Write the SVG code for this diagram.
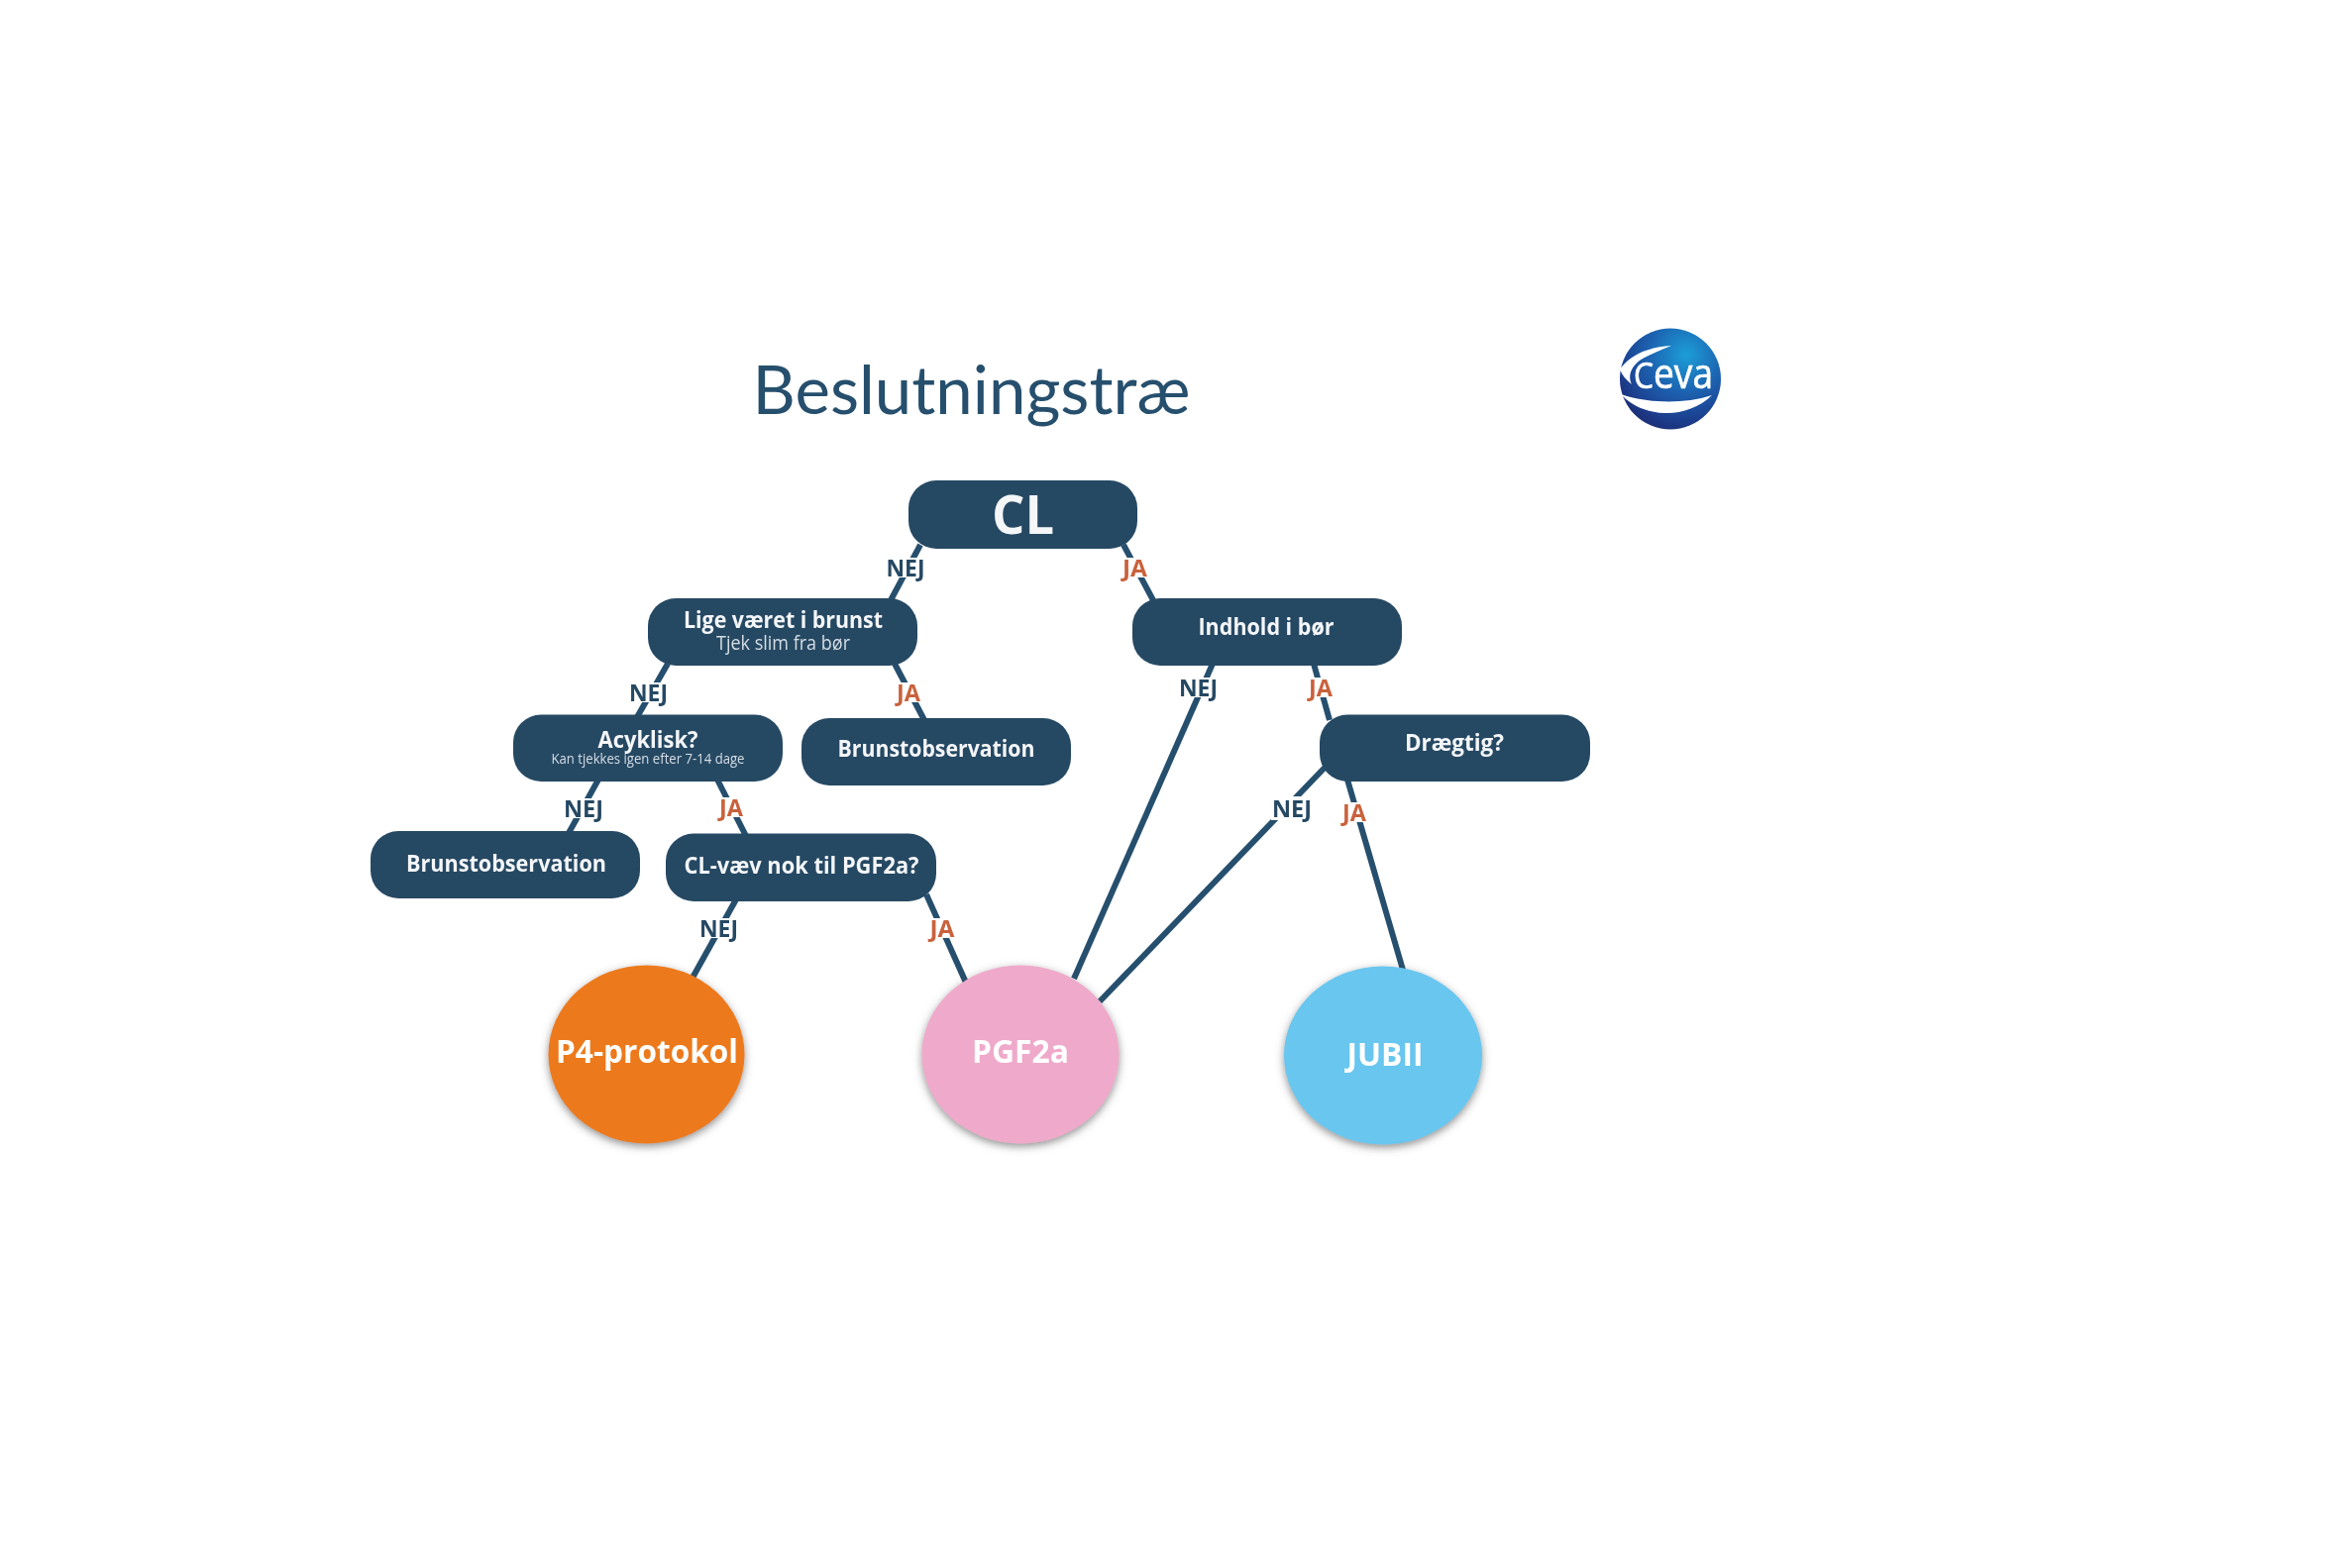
<svg xmlns="http://www.w3.org/2000/svg" width="2372" height="1583" viewBox="0 0 2372 1583">
<style>
text{font-family:"Open Sans","Noto Sans","Liberation Sans",sans-serif;text-anchor:middle}
.box{fill:#264864}
.t{fill:#f4f6f8;font-weight:700;font-size:23px}
.s{fill:#d5dde4;font-weight:400}
.big{fill:#fff;font-weight:700;font-size:33px}
.edge{stroke:#28506e;stroke-width:6;fill:none}
.lb{fill:#fff}
.nej{fill:#264864;font-weight:700;font-size:23px}
.ja{fill:#c9623c;font-weight:700;font-size:23px}
</style>
<defs>
<filter id="shadow" x="-20%" y="-20%" width="140%" height="140%"><feDropShadow dx="0" dy="3" stdDeviation="4" flood-color="#555" flood-opacity="0.65"/></filter>
<filter id="soft" x="-2%" y="-2%" width="104%" height="104%"><feGaussianBlur stdDeviation="0.7"/></filter>
<radialGradient id="ball" gradientUnits="userSpaceOnUse" cx="1702" cy="358" r="85">
<stop offset="0" stop-color="#1f9ed8"/><stop offset="0.45" stop-color="#1a62b0"/><stop offset="0.8" stop-color="#1c3c8c"/><stop offset="1" stop-color="#1d2b6e"/>
</radialGradient>
</defs>
<g filter="url(#soft)">
<g id="connectors">
<line class="edge" x1="929" y1="550" x2="899" y2="606"/>
<line class="edge" x1="1134" y1="550" x2="1164" y2="606"/>
<line class="edge" x1="674" y1="670" x2="643" y2="724"/>
<line class="edge" x1="903" y1="670" x2="933" y2="727"/>
<line class="edge" x1="1224" y1="670" x2="1084" y2="988"/>
<line class="edge" x1="1326" y1="670" x2="1342" y2="727"/>
<line class="edge" x1="1337" y1="775" x2="1110" y2="1011"/>
<line class="edge" x1="1360" y1="787" x2="1416" y2="979"/>
<line class="edge" x1="604" y1="787" x2="574" y2="841"/>
<line class="edge" x1="724" y1="787" x2="753" y2="844"/>
<line class="edge" x1="743" y1="908" x2="699" y2="987"/>
<line class="edge" x1="935" y1="903" x2="975" y2="992"/>
</g>
<g id="connector-labels">
<rect class="lb" x="894" y="563" width="41" height="20"/><text class="nej" x="914" y="581.5" textLength="39" lengthAdjust="spacingAndGlyphs">NEJ</text>
<rect class="lb" x="1132" y="563" width="27" height="20"/><text class="ja" x="1145.5" y="581.5" textLength="25" lengthAdjust="spacingAndGlyphs">JA</text>
<rect class="lb" x="634" y="689" width="41" height="20"/><text class="nej" x="654.5" y="707.5" textLength="39" lengthAdjust="spacingAndGlyphs">NEJ</text>
<rect class="lb" x="904" y="689" width="26" height="20"/><text class="ja" x="917" y="707.5" textLength="24" lengthAdjust="spacingAndGlyphs">JA</text>
<rect class="lb" x="1189" y="684" width="41" height="20"/><text class="nej" x="1209.5" y="702.5" textLength="39" lengthAdjust="spacingAndGlyphs">NEJ</text>
<rect class="lb" x="1320" y="684" width="26" height="20"/><text class="ja" x="1333" y="702.5" textLength="24" lengthAdjust="spacingAndGlyphs">JA</text>
<rect class="lb" x="1283" y="804" width="42" height="24"/><text class="nej" x="1304" y="824.5" textLength="40" lengthAdjust="spacingAndGlyphs">NEJ</text>
<rect class="lb" x="1354" y="810" width="26" height="20"/><text class="ja" x="1367" y="828.5" textLength="24" lengthAdjust="spacingAndGlyphs">JA</text>
<rect class="lb" x="568" y="806" width="42" height="20"/><text class="nej" x="589" y="824.5" textLength="40" lengthAdjust="spacingAndGlyphs">NEJ</text>
<rect class="lb" x="725" y="805" width="26" height="20"/><text class="ja" x="738" y="823.5" textLength="24" lengthAdjust="spacingAndGlyphs">JA</text>
<rect class="lb" x="705" y="927" width="41" height="20"/><text class="nej" x="725.5" y="945.5" textLength="39" lengthAdjust="spacingAndGlyphs">NEJ</text>
<rect class="lb" x="938" y="927" width="26" height="20"/><text class="ja" x="951" y="945.5" textLength="25" lengthAdjust="spacingAndGlyphs">JA</text>
</g>
<g id="title"><text x="980.5" y="418" style="font-family:Lato,'Open Sans',sans-serif;font-size:68px" fill="#264f6d" textLength="442" lengthAdjust="spacingAndGlyphs">Beslutningstræ</text></g>
<g id="logo">
<circle cx="1686" cy="382.5" r="51" fill="url(#ball)"/>
<path d="M1687 349C1665 350 1645 358 1635 373C1638 380 1642 384 1647 388C1642 378 1648 368 1658 362C1667 357 1677 353 1687 349Z" fill="#fff"/>
<path d="M1636 398C1655 405 1695 410 1728 399C1715 412 1695 418 1680 417C1660 416 1645 408 1636 398Z" fill="#fff"/>
<text x="1689" y="392" fill="#fff" stroke="#fff" stroke-width="0.7" textLength="80" lengthAdjust="spacingAndGlyphs" font-size="42"><tspan font-size="36">C</tspan>eva</text>
</g>
<g id="node-cl"><rect class="box" x="917" y="485" width="231" height="69" rx="28"/><text x="1032.5" y="539" style="font-size:54px;font-weight:700" fill="#f4f6f8" textLength="63" lengthAdjust="spacingAndGlyphs">CL</text></g>
<g id="node-lige"><rect class="box" x="654" y="604" width="272" height="68" rx="28"/><text class="t" x="790.5" y="633.5" textLength="201" lengthAdjust="spacingAndGlyphs">Lige været i brunst</text><text class="s" x="790.5" y="655.5" font-size="20" textLength="135" lengthAdjust="spacingAndGlyphs">Tjek slim fra bør</text></g>
<g id="node-indhold"><rect class="box" x="1143" y="604" width="272" height="68" rx="28"/><text class="t" x="1278" y="641" textLength="137" lengthAdjust="spacingAndGlyphs">Indhold i bør</text></g>
<g id="node-acyklisk"><rect class="box" x="518" y="721.5" width="272" height="67.5" rx="28"/><text class="t" x="654" y="755" textLength="101" lengthAdjust="spacingAndGlyphs">Acyklisk?</text><text class="s" x="654" y="771" font-size="15" textLength="195" lengthAdjust="spacingAndGlyphs">Kan tjekkes igen efter 7-14 dage</text></g>
<g id="node-brunst-right"><rect class="box" x="809" y="725" width="272" height="68" rx="28"/><text class="t" x="945" y="764" textLength="199" lengthAdjust="spacingAndGlyphs">Brunstobservation</text></g>
<g id="node-draegtig"><rect class="box" x="1332" y="721.5" width="273" height="67.5" rx="28"/><text class="t" x="1468" y="758" textLength="100" lengthAdjust="spacingAndGlyphs">Drægtig?</text></g>
<g id="node-brunst-left"><rect class="box" x="374" y="839" width="272" height="68" rx="28"/><text class="t" x="511" y="880" textLength="202" lengthAdjust="spacingAndGlyphs">Brunstobservation</text></g>
<g id="node-clvaev"><rect class="box" x="672" y="841.5" width="273" height="68.5" rx="28"/><text class="t" x="809" y="882" textLength="237" lengthAdjust="spacingAndGlyphs">CL-væv nok til PGF2a?</text></g>
<g id="node-p4"><ellipse cx="652.5" cy="1064.5" rx="99" ry="90" fill="#ec7a1c" filter="url(#shadow)"/><text class="big" x="653" y="1073" textLength="184" lengthAdjust="spacingAndGlyphs">P4-protokol</text></g>
<g id="node-pgf"><ellipse cx="1030" cy="1064.5" rx="99.5" ry="90" fill="#efa9ca" filter="url(#shadow)"/><text class="big" x="1030" y="1073" textLength="98" lengthAdjust="spacingAndGlyphs">PGF2a</text></g>
<g id="node-jubii"><ellipse cx="1396" cy="1065.5" rx="100" ry="90" fill="#68c6ef" filter="url(#shadow)"/><text class="big" x="1398" y="1076" textLength="77" lengthAdjust="spacingAndGlyphs">JUBII</text></g>
</g>
</svg>
